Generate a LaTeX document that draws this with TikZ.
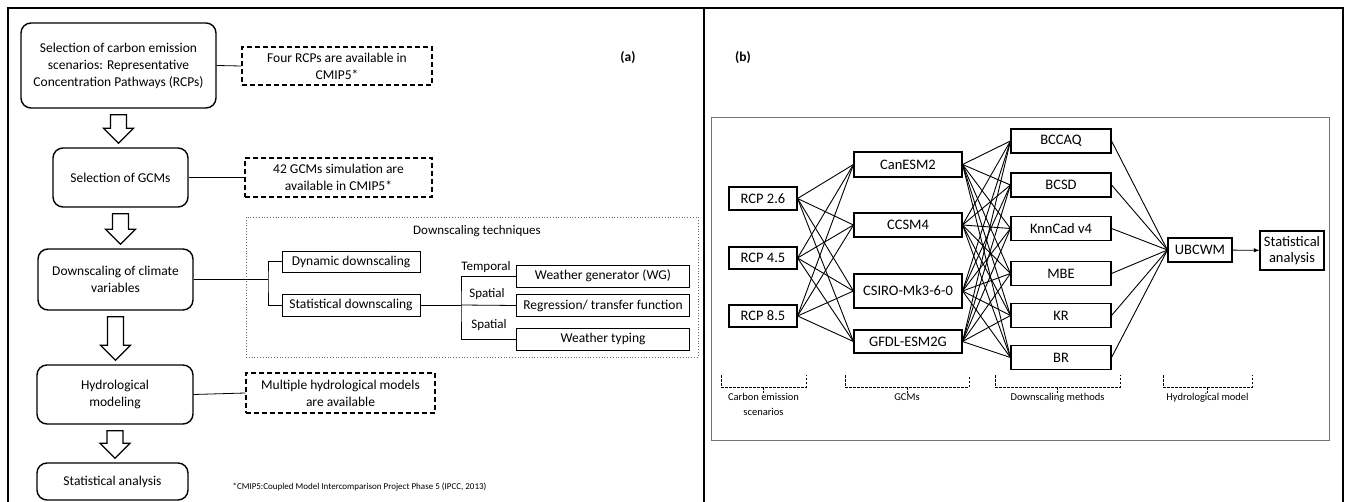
\documentclass[tikz,border=0pt]{standalone}
\usepackage{fontspec}
\setmainfont{Carlito}
\usetikzlibrary{calc}

% hollow block arrow between two stacked boxes
\newcommand{\fatarrow}[2]{%
  \draw[line width=1.2pt, fill=white, line join=miter]
    let \p1=($(#1.south)+(0,6)$), \p2=($(#2.north)+(0,-4)$) in
    (\x1-8pt,\y1) -- (\x1+8pt,\y1) -- (\x1+8pt,\y2+15pt) -- (\x1+15pt,\y2+15pt)
    -- (\x1,\y2) -- (\x1-15pt,\y2+15pt) -- (\x1-8pt,\y2+15pt) -- cycle;}

% dashed group bracket under a column
\newcommand{\groupbrace}[4]{%
  \draw[brace] (#1,375) -- (#1,387) -- (#2,387) -- (#2,375);
  \draw[brace] ({(#1+#2)/2},387) -- ({(#1+#2)/2},393);
  \node[grouplabel] (#3) at ({(#1+#2)/2},392) {#4};}

\begin{document}
\begin{tikzpicture}[
  x=1pt, y=-1pt,
  >=latex,
  stage/.style={rectangle, draw, line width=1.4pt, rounded corners=10pt, align=center,
    inner sep=0pt, font=\fontsize{13.5}{17}\selectfont},
  note/.style={rectangle, draw, line width=1.2pt, dash pattern=on 5pt off 3pt, align=center,
    inner sep=0pt, font=\fontsize{13.5}{17}\selectfont},
  tech/.style={rectangle, draw, line width=0.9pt, align=center, inner sep=0pt,
    font=\fontsize{13.5}{16}\selectfont},
  model/.style={rectangle, draw, line width=1.1pt, align=center, inner sep=0pt,
    font=\fontsize{14.5}{16}\selectfont},
  link/.style={line width=0.8pt},
  wire/.style={line width=0.9pt},
  brace/.style={line width=0.7pt, dash pattern=on 2.5pt off 1.5pt},
  grouplabel/.style={anchor=north, align=center, inner sep=1pt,
    font=\fontsize{10.5}{15}\selectfont},
  sidelabel/.style={inner sep=0pt, font=\fontsize{13}{15}\selectfont}
]
\useasboundingbox (0,0) rectangle (1346,502);

% Frames
\draw[line width=1.6pt] (8,502) -- (8,8) -- (1343,8) -- (1343,502);
\draw[line width=1.6pt] (704,8) -- (704,502);
\draw[line width=0.9pt, black!55] (711,117) rectangle (1329,440);
\node[font=\bfseries\fontsize{13.5}{16}\selectfont] (tagA) at (628,58) {(a)};
\node[font=\bfseries\fontsize{13.5}{16}\selectfont] (tagB) at (743,58) {(b)};

% (a) Stages
\node[stage, minimum width=195, minimum height=85] (sel1) at (118.5,65.5)
  {Selection of carbon emission\\scenarios: Representative\\Concentration Pathways (RCPs)};
\node[stage, minimum width=135, minimum height=59] (sel2) at (120.5,177.5) {Selection of GCMs};
\node[stage, minimum width=155, minimum height=61] (sel3) at (115.5,279.5) {Downscaling of climate\\variables};
\node[stage, minimum width=156, minimum height=59] (sel4) at (115,394.5) {Hydrological\\modeling};
\node[stage, minimum width=151, minimum height=37] (sel5) at (112.5,481.5) {Statistical analysis};

\fatarrow{sel1}{sel2}
\fatarrow{sel2}{sel3}
\fatarrow{sel3}{sel4}
\fatarrow{sel4}{sel5}

% (a) Notes
\node[note, minimum width=190, minimum height=38] (note1) at (337,66) {Four RCPs are available in\\CMIP5*};
\node[note, minimum width=187, minimum height=39] (note2) at (338.5,177.5) {42 GCMs simulation are\\available in CMIP5*};
\node[note, minimum width=189, minimum height=40] (note4) at (340.5,393) {Multiple hydrological models\\are available};
\draw[link] (sel1.east) -- (note1.west);
\draw[link] (sel2.east) -- (note2.west);
\draw[link] (sel4.east) -- (note4.west);

% (a) Downscaling techniques
\draw[line width=0.8pt, black!60, dotted] (246,217) rectangle (698,357);
\node[font=\fontsize{13}{15}\selectfont] (techtitle) at (477,231) {Downscaling techniques};
\node[tech, minimum width=138, minimum height=21] (dyn) at (351,261.5) {Dynamic downscaling};
\node[tech, minimum width=138, minimum height=22] (stat) at (351,305) {Statistical downscaling};
\node[tech, minimum width=173, minimum height=22] (wg) at (603,276) {Weather generator (WG)};
\node[tech, minimum width=173, minimum height=22] (reg) at (603,305.5) {Regression/ transfer function};
\node[tech, minimum width=173, minimum height=22] (wt) at (603,339) {Weather typing};
\node[sidelabel] (temporal) at (486,267) {Temporal};
\node[sidelabel] (spatialA) at (487,294) {Spatial};
\node[sidelabel] (spatialB) at (489,325) {Spatial};

\coordinate (fork) at (268,280);
\coordinate (split) at (461,305);
\draw[link] (sel3.east) -- (sel3.east -| fork);
\draw[link] (dyn.west) -| (fork) |- (stat.west);
\draw[link] (stat.east) -- (split);
\draw[link] (wg.west) -| (split) |- (wt.west);
\draw[link] (split) -- (reg.west);

\node[font=\fontsize{9}{10}\selectfont, anchor=west] (footnote) at (229,487)
  {*CMIP5:Coupled Model Intercomparison Project Phase 5 (IPCC, 2013)};

% (b) Scenarios
\node[model, minimum width=68, minimum height=23] (rcp26) at (763,198.5) {RCP 2.6};
\node[model, minimum width=68, minimum height=22] (rcp45) at (763,258) {RCP 4.5};
\node[model, minimum width=68, minimum height=22] (rcp85) at (763,316) {RCP 8.5};

% (b) GCMs
\node[model, minimum width=108, minimum height=25] (can) at (908,164.5) {CanESM2};
\node[model, minimum width=108, minimum height=24] (ccsm) at (908,225) {CCSM4};
\node[model, minimum width=108, minimum height=34] (csiro) at (908,291) {CSIRO-Mk3-6-0};
\node[model, minimum width=108, minimum height=23] (gfdl) at (908,341.5) {GFDL-ESM2G};

% (b) Downscaling methods
\node[model, minimum width=100, minimum height=24] (bccaq) at (1061,141) {BCCAQ};
\node[model, minimum width=100, minimum height=24] (bcsd) at (1061,185) {BCSD};
\node[model, minimum width=100, minimum height=24] (knn) at (1061,228.5) {KnnCad v4};
\node[model, minimum width=100, minimum height=24] (mbe) at (1061,273.5) {MBE};
\node[model, minimum width=100, minimum height=24] (kr) at (1061,315.5) {KR};
\node[model, minimum width=100, minimum height=24] (br) at (1061,357.5) {BR};

% (b) Hydrology and analysis
\node[model, minimum width=64, minimum height=24] (ubcwm) at (1200,250) {UBCWM};
\node[model, minimum width=64, minimum height=39] (analysis) at (1292,250.5) {Statistical\\analysis};

% (b) Links
\foreach \r in {rcp26,rcp45,rcp85}
  \foreach \g in {can,ccsm,csiro,gfdl}
    \draw[wire] (\r.east) -- (\g.west);
\foreach \g in {can,ccsm,csiro,gfdl}
  \foreach \d in {bccaq,bcsd,knn,mbe,kr,br}
    \draw[wire] (\g.east) -- (\d.west);
\foreach \d in {bccaq,bcsd,knn,mbe,kr,br}
  \draw[wire] (\d.east) -- (ubcwm.west);
\draw[wire, ->] (ubcwm) -- (analysis);

% (b) Groups
\groupbrace{721}{806}{grpA}{Carbon emission\\scenarios}
\groupbrace{845}{969}{grpB}{GCMs}
\groupbrace{995}{1120}{grpC}{Downscaling methods}
\groupbrace{1163}{1252}{grpD}{Hydrological model}

\end{tikzpicture}
\end{document}
